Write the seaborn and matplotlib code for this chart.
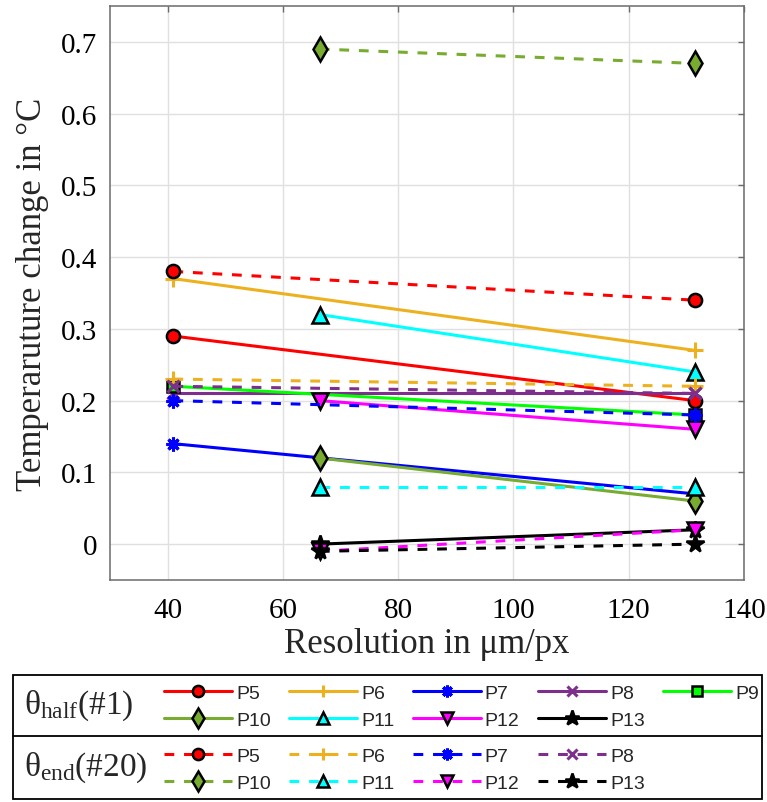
import numpy as np
import pandas as pd
import seaborn as sns
import matplotlib
matplotlib.use("Agg")
import matplotlib.pyplot as plt
from matplotlib.patches import Rectangle
from matplotlib.lines import Line2D

# ---------------- data ----------------
res_a = [41.0, 131.5]   # resolution (um/px) for P5..P9
res_b = [66.4, 131.5]   # resolution (um/px) for P10..P13

labels_half = ["P5", "P6", "P7", "P8", "P9", "P10", "P11", "P12", "P13"]
labels_end = ["P5", "P6", "P7", "P8", "P10", "P11", "P12", "P13"]

half_p5 = [0.29, 0.20]
half_p6 = [0.37, 0.27]
half_p7 = [0.14, 0.07]
half_p8 = [0.21, 0.21]
half_p9 = [0.22, 0.18]
half_p10 = [0.12, 0.06]
half_p11 = [0.32, 0.24]
half_p12 = [0.20, 0.16]
half_p13 = [0.00, 0.02]

end_p5 = [0.38, 0.34]
end_p6 = [0.23, 0.22]
end_p7 = [0.20, 0.18]
end_p8 = [0.22, 0.21]
end_p10 = [0.69, 0.67]
end_p11 = [0.08, 0.08]
end_p12 = [-0.01, 0.02]
end_p13 = [-0.01, 0.00]

xticks = [40, 60, 80, 100, 120, 140]
yticks = [0, 0.1, 0.2, 0.3, 0.4, 0.5, 0.6, 0.7]

# ---------------- styles ----------------
colors = {"P5": "#FF0000", "P6": "#EDB120", "P7": "#0000FF", "P8": "#7E2F8E",
          "P9": "#00FF00", "P10": "#77AC30", "P11": "#00FFFF", "P12": "#FF00FF",
          "P13": "#000000"}
markers = {"P5": "o", "P6": "+", "P7": (8, 2, 0), "P8": "x", "P9": "s",
           "P10": "d", "P11": "^", "P12": "v", "P13": "*"}
msizes = {"P5": 9.5, "P6": 11, "P7": 10, "P8": 8, "P9": 8,
          "P10": 12.5, "P11": 11, "P12": 11, "P13": 13}
line_markers = {"P6", "P7", "P8"}  # unfilled markers drawn in line colour

half_vals = {"P5": half_p5, "P6": half_p6, "P7": half_p7, "P8": half_p8, "P9": half_p9,
             "P10": half_p10, "P11": half_p11, "P12": half_p12, "P13": half_p13}
end_vals = {"P5": end_p5, "P6": end_p6, "P7": end_p7, "P8": end_p8,
            "P10": end_p10, "P11": end_p11, "P12": end_p12, "P13": end_p13}

def xs_for(lbl):
    return res_a if lbl in ("P5", "P6", "P7", "P8", "P9") else res_b

rows = []
for lbl in labels_half:
    for x, y in zip(xs_for(lbl), half_vals[lbl]):
        rows.append({"kind": "half", "probe": lbl, "res": x, "dT": y})
for lbl in labels_end:
    for x, y in zip(xs_for(lbl), end_vals[lbl]):
        rows.append({"kind": "end", "probe": lbl, "res": x, "dT": y})
df = pd.DataFrame(rows)

# ---------------- figure ----------------
sns.set_style("white")
plt.rcParams["font.family"] = ["Liberation Serif", "DejaVu Serif"]
plt.rcParams["xtick.labelsize"] = 21
plt.rcParams["ytick.labelsize"] = 21
plt.rcParams["mathtext.fontset"] = "custom"
plt.rcParams["mathtext.rm"] = "Liberation Serif"
plt.rcParams["mathtext.it"] = "Liberation Serif:italic"
plt.rcParams["lines.dashed_pattern"] = [3.2, 3.2]

W, H = 767, 803
fig = plt.figure(figsize=(W / 100, H / 100), dpi=100)
ax = fig.add_axes([110 / W, 1 - 581 / H, (744 - 110) / W, (581 - 7) / H])

handles_half = {}
handles_end = {}

def draw(kind, lbl):
    c = colors[lbl]
    sub = df[(df.kind == kind) & (df.probe == lbl)]
    n0 = len(ax.lines)
    if lbl in line_markers:
        mfc, mec, mew = c, c, 2.2
    else:
        mfc, mec, mew = c, "black", 1.8
    sns.lineplot(data=sub, x="res", y="dT", ax=ax, color=c,
                 linestyle="-" if kind == "half" else "--", linewidth=2.2,
                 marker=markers[lbl], markersize=msizes[lbl],
                 markerfacecolor=mfc, markeredgecolor=mec, markeredgewidth=mew,
                 legend=False, errorbar=None, sort=True)
    return ax.lines[n0]

for lbl in labels_half:
    handles_half[lbl] = draw("half", lbl)
for lbl in labels_end:
    handles_end[lbl] = draw("end", lbl)

ax.set_xlim(30, 140)
ax.set_ylim(-0.05, 0.75)
ax.set_xticks(xticks)
ax.set_yticks(yticks)
ax.set_xticklabels([str(t) for t in xticks])
ax.set_yticklabels(["0"] + [f"{t:.1f}" for t in yticks[1:]])
ax.grid(True, color="#e0e0e0", linewidth=1.0)
ax.set_axisbelow(True)
for s in ax.spines.values():
    s.set_visible(True)
    s.set_color("#6b6b6b")
    s.set_linewidth(1.1)
ax.tick_params(axis="both", which="both", direction="in", length=4.5, width=1.0,
               color="#6b6b6b", top=True, right=True, labelcolor="black",
               labelsize=21)
ax.tick_params(axis="x", pad=12)
ax.tick_params(axis="y", pad=9)
for t in ax.get_xticklabels() + ax.get_yticklabels():
    t.set_family(["Liberation Serif"])
    t.set_fontsize(21)
ax.set_xlabel("Resolution in μm/px", fontsize=25, labelpad=3,
              family=["Liberation Serif"])
ax.set_ylabel("Temperaruture change in °C", fontsize=25, labelpad=9,
              family=["Liberation Serif"])

# ---------------- legend ----------------
def fx(px):
    return px / W

def fy(py):
    return 1 - py / H

box = Rectangle((fx(13), fy(800)), fx(762) - fx(13), fy(676) - fy(800),
                transform=fig.transFigure, fill=False, edgecolor="black",
                linewidth=1.3)
fig.add_artist(box)
fig.add_artist(Line2D([fx(13), fx(762)], [fy(737), fy(737)],
                      transform=fig.transFigure, color="black", linewidth=1.3))

fig.text(fx(24), fy(706), r"$\mathrm{θ}_{\mathrm{half}}$(#1)", fontsize=24,
         va="center", ha="left", family=["Liberation Serif"])
fig.text(fx(24), fy(768), r"$\mathrm{θ}_{\mathrm{end}}$(#20)", fontsize=24,
         va="center", ha="left", family=["Liberation Serif"])

order_half = ["P5", "P10", "P6", "P11", "P7", "P12", "P8", "P13", "P9"]
order_end = ["P5", "P10", "P6", "P11", "P7", "P12", "P8", "P13"]

leg_kw = dict(frameon=False, handlelength=3.5, handletextpad=0.2,
              columnspacing=0.95, labelspacing=0.5, borderpad=0,
              borderaxespad=0, numpoints=1, markerscale=0.85,
              prop={"family": ["Liberation Sans"], "size": 14})
leg1 = fig.legend([handles_half[k] for k in order_half], order_half, ncol=5,
                  loc="upper left", bbox_to_anchor=(fx(164), fy(685)), **leg_kw)
leg2 = fig.legend([handles_end[k] for k in order_end], order_end, ncol=4,
                  loc="upper left", bbox_to_anchor=(fx(164), fy(748)), **leg_kw)

fig.savefig("out.png", dpi=100)
